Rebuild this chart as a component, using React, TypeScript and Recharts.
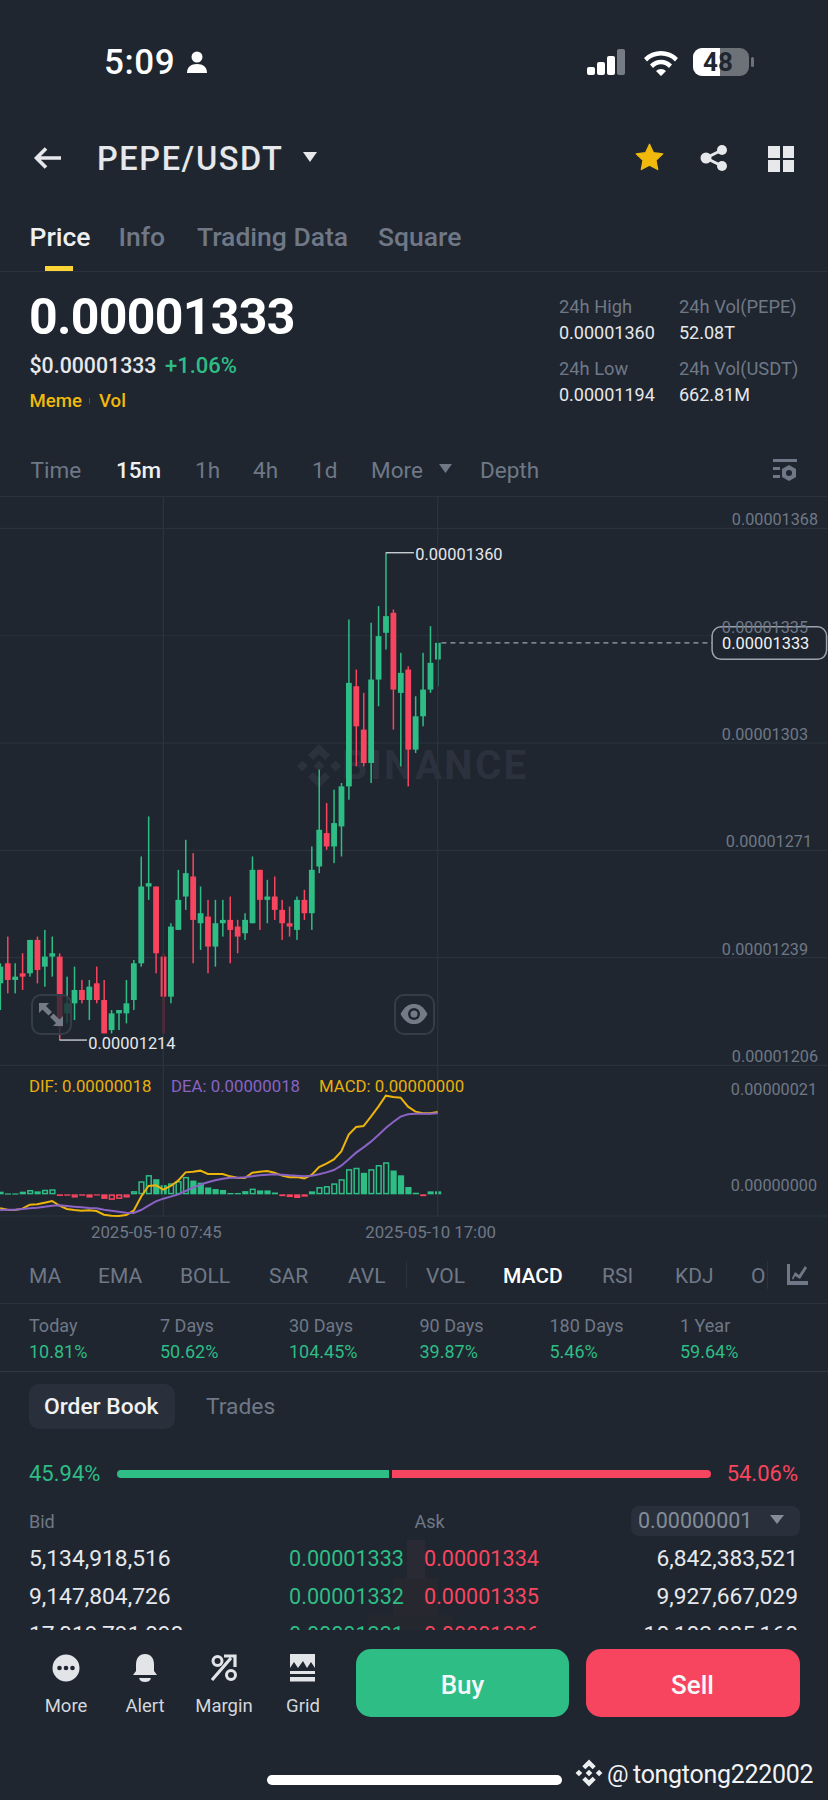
import React from "react";
import { ComposedChart, Bar, Line, XAxis, YAxis, CartesianGrid, ReferenceLine, ReferenceDot } from "recharts";

// Prices are in units of 0.00000001
const candleOpen = [1231,1237,1232,1234,1234,1244,1236,1239,1239,1222,1225,1229,1226,1231,1226,1217,1222,1222,1226,1237,1260,1260,1239,1227,1247,1257,1263,1249,1251,1242,1249,1250,1248,1246,1249,1265,1256,1257,1253,1249,1247,1256,1252,1266,1276,1272,1278,1290,1320,1307,1297,1322,1336,1342,1318,1325,1301,1311,1319,1328];
const candleHigh = [1237,1245,1237,1240,1244,1245,1247,1245,1240,1233,1236,1232,1232,1236,1232,1223,1223,1232,1238,1269,1281,1260,1240,1249,1265,1274,1270,1260,1256,1256,1256,1257,1250,1252,1269,1265,1262,1263,1256,1254,1257,1259,1272,1295,1285,1289,1291,1340,1325,1318,1339,1344,1360,1343,1330,1326,1317,1330,1338,1333];
const candleLow = [1223,1228,1228,1229,1233,1231,1230,1233,1214,1219,1220,1225,1220,1225,1216,1216,1217,1219,1223,1236,1256,1234,1216,1225,1247,1253,1237,1241,1234,1236,1245,1237,1240,1244,1249,1247,1249,1250,1244,1245,1244,1250,1247,1264,1271,1267,1269,1286,1296,1296,1291,1314,1331,1307,1296,1290,1300,1308,1318,1320];
const candleClose = [1236,1232,1233,1233,1244,1235,1239,1240,1218,1225,1229,1226,1230,1226,1216,1222,1223,1225,1237,1260,1261,1240,1227,1248,1256,1264,1250,1252,1242,1249,1250,1247,1245,1250,1265,1256,1257,1253,1249,1248,1256,1252,1265,1277,1272,1279,1290,1321,1308,1297,1322,1335,1341,1319,1324,1301,1311,1319,1327,1333];

// MACD panel, same units
const difValues = [-3.06,-3.35,-3.42,-3.13,-2.26,-2.18,-1.82,-1.46,-2.47,-3.2,-3.42,-3.57,-3.49,-3.64,-4.44,-4.66,-4.73,-4.51,-3.57,-0.51,1.82,1.97,1.02,1.82,2.98,4.8,4.95,5.17,4.44,4.44,4.44,3.93,3.64,3.57,4.73,4.95,5.09,4.73,4.08,3.71,3.78,3.49,4.22,5.97,6.7,7.64,9.39,13.03,14.7,14.92,16.96,19.14,21.54,21.25,21.11,19.14,18.05,17.69,17.69,17.98];
const deaValues = [-3.42,-3.35,-3.35,-3.2,-3.06,-2.91,-2.69,-2.47,-2.4,-2.55,-2.69,-2.84,-2.98,-3.06,-3.35,-3.57,-3.78,-4,-4.08,-3.42,-2.47,-1.53,-0.95,-0.51,0,0.73,1.46,2.11,2.62,3.06,3.42,3.64,3.64,3.71,3.93,4.15,4.29,4.37,4.29,4.15,4.08,3.93,4.08,4.37,4.8,5.31,6.26,7.64,9.1,10.26,11.5,12.95,14.48,15.79,16.96,17.47,17.61,17.61,17.61,17.69];
const histValues = [0.58,0.2,0.2,0.58,0.95,0.65,1,1.1,-0.35,-0.3,-0.7,-0.3,-0.7,-0.25,-1,-1.2,-1,-0.7,0.7,2.85,4.2,3.3,2,2.4,2.9,3.8,3,2.55,1.5,1.15,0.95,0.3,0.3,0.7,1.25,0.85,0.85,0.4,-0.4,-0.6,-0.8,-0.5,0.65,1.6,1.8,2.4,3.3,5.5,5.8,4.7,5.5,6.4,7,5.2,4.15,1.6,0.35,-0.4,0.65,0.65];
const hollowBars = [4,6,7,10,15,16,17,18,19,20,23,24,25,34,43,44,45,46,47,48,50,51,52];

const timeTickIndex = [22, 59];
const timeTickLabels = ["2025-05-10 07:45", "2025-05-10 17:00"];
const priceTicks = [1367.31, 1335.13, 1303, 1270.85, 1238.67, 1206.43];
const priceTickLabels = ["0.00001368", "0.00001335", "0.00001303", "0.00001271", "0.00001239", "0.00001206"];
const macdTicks = [21, 0];
const macdTickLabels = ["0.00000021", "0.00000000"];
const highPrice = 1360;
const lowPrice = 1214;
const lastPrice = 1333;
const highIndex = 52;
const lowIndex = 8;
const lastIndex = 59;

const pageTabs = ["Price", "Info", "Trading Data", "Square"];
const intervals = ["Time", "15m", "1h", "4h", "1d", "More", "Depth"];
const indicators = ["MA", "EMA", "BOLL", "SAR", "AVL", "VOL", "MACD", "RSI", "KDJ", "O"];
const periodNames = ["Today", "7 Days", "30 Days", "90 Days", "180 Days", "1 Year"];
const periodValues = ["10.81%", "50.62%", "104.45%", "39.87%", "5.46%", "59.64%"];
const bidQty = ["5,134,918,516", "9,147,804,726", "17,019,791,098"];
const bidPrice = ["0.00001333", "0.00001332", "0.00001331"];
const askPrice = ["0.00001334", "0.00001335", "0.00001336"];
const askQty = ["6,842,383,521", "9,927,667,029", "10,102,085,160"];
const actions = ["More", "Alert", "Margin", "Grid"];

const candleData = candleOpen.map((open, i) => ({
  i, open, close: candleClose[i], high: candleHigh[i], low: candleLow[i],
  range: [candleLow[i], candleHigh[i]],
}));
const macdData = difValues.map((dif, i) => ({
  i, dif, dea: deaValues[i], hist: histValues[i], hollow: hollowBars.includes(i),
}));

const BG = "#1f2630";
const GRID = "#2b323d";
const GREEN = "#2ebd85";
const RED = "#f8455f";
const GRAY = "#6f7886";
const SOFT = "#e6e8eb";
const YELLOW = "#f0b90b";
const PURPLE = "#8a63c4";
const W = 828;
const X_DOMAIN = [-0.0216, 111.63];

const T = ({ x, r, y, s, c = GRAY, w = 400, ls, children }: any) => (
  <div style={{ position: "absolute", left: r === undefined ? x : undefined, right: r !== undefined ? W - r : undefined, top: y, transform: "translateY(-50%)", fontSize: s, color: c, fontWeight: w, lineHeight: 1, whiteSpace: "nowrap", letterSpacing: ls }}>{children}</div>
);
const Box = ({ x, y, w, h, c, rad = 0, style }: any) => (
  <div style={{ position: "absolute", left: x, top: y, width: w, height: h, background: c, borderRadius: rad, ...style }} />
);
const Ico = ({ x, y, w, h, vb, children }: any) => (
  <svg style={{ position: "absolute", left: x, top: y }} width={w} height={h} viewBox={vb || `0 0 ${w} ${h}`}>{children}</svg>
);
const Logo = ({ x, y, size, c }: any) => (
  <Ico x={x} y={y} w={size} h={size} vb="0 0 100 100">
    <g fill={c}>
      <polygon points="50,2 74,26 63,37 50,24 37,37 26,26" />
      <polygon points="50,98 74,74 63,63 50,76 37,63 26,74" />
      <polygon points="14,38 26,50 14,62 2,50" />
      <polygon points="86,38 98,50 86,62 74,50" />
      <polygon points="50,38 62,50 50,62 38,50" />
    </g>
  </Ico>
);

const CandleShape = (props: any) => {
  const { x, y, width, height, payload } = props;
  const { open, close, high, low } = payload;
  const ppu = height / (high - low);
  const color = close >= open ? GREEN : RED;
  const top = y + (high - Math.max(open, close)) * ppu;
  const bodyH = Math.max(Math.abs(open - close) * ppu, 1.6);
  const cx = x + width / 2;
  return (
    <g>
      <rect x={cx - 0.75} y={y} width={1.5} height={height} fill={color} />
      <rect x={x} y={top} width={width} height={bodyH} fill={color} />
    </g>
  );
};
const HistShape = (props: any) => {
  const { x, y, width, height, payload } = props;
  const top = Math.min(y, y + height);
  const h = Math.max(Math.abs(height), 1.2);
  const color = payload.hist >= 0 ? GREEN : RED;
  if (payload.hollow) {
    return <rect x={x + 0.75} y={top + 0.75} width={width - 1.5} height={Math.max(h - 1.5, 0.5)} fill="none" stroke={color} strokeWidth={1.5} />;
  }
  return <rect x={x} y={top} width={width} height={h} fill={color} />;
};

const makeYTick = (ticks: number[], labels: string[], rights: number[]) => (p: any) => {
  const idx = ticks.indexOf(p.payload.value);
  return <text x={rights[idx]} y={p.y - 9} dy={5.8} textAnchor="end" fontSize={16.2} fill={GRAY} fontFamily="Roboto">{labels[idx]}</text>;
};
const TimeTick = (p: any) => {
  const idx = timeTickIndex.indexOf(p.payload.value);
  return <text x={p.x - 7} y={1231.7 - 1066 + 5.8} textAnchor="middle" fontSize={16.8} fill={GRAY} fontFamily="Roboto">{timeTickLabels[idx]}</text>;
};
const ExtremeText = (label: string, dy: number) => (p: any) => (
  <text x={p.cx + 1} y={p.cy + dy} fontSize={16.4} fill={SOFT} fontFamily="Roboto">{label}</text>
);
const LastBox = (p: any) => (
  <g>
    <rect x={p.cx} y={p.cy - 16} width={114.5} height={32.5} rx={9} fill={BG} stroke="#9ea4ae" strokeWidth={1.5} />
    <text x={p.cx + 10} y={p.cy + 6.5} fontSize={16.4} fill="#f2f3f5" fontFamily="Roboto">0.00001333</text>
  </g>
);

function PriceChart() {
  return (
    <div style={{ position: "absolute", left: 0, top: 496 }}>
      <ComposedChart width={W} height={570} data={candleData} margin={{ top: 0, right: -1, bottom: -1, left: 0 }}>
        <CartesianGrid stroke={GRID} strokeWidth={1.2} vertical={false} horizontalValues={priceTicks} />
        <XAxis type="number" dataKey="i" domain={X_DOMAIN} allowDataOverflow ticks={timeTickIndex} height={1} tick={false} axisLine={false} tickLine={false} interval={0} />
        <YAxis orientation="right" width={1} domain={[1206.23, 1376.99]} allowDataOverflow ticks={priceTicks} interval={0} axisLine={false} tickLine={false} tick={makeYTick(priceTicks, priceTickLabels, [818, 808, 808, 812, 808, 818])} />
        <ReferenceLine x={timeTickIndex[0]} stroke={GRID} strokeWidth={1.4} />
        <ReferenceLine x={timeTickIndex[1]} stroke={GRID} strokeWidth={1.4} />
        <Bar dataKey="range" barSize={5.8} shape={CandleShape} isAnimationActive={false} />
        <ReferenceLine segment={[{ x: highIndex, y: highPrice }, { x: 55.8, y: highPrice }]} stroke="#c8ccd2" strokeWidth={1.4} />
        <ReferenceLine segment={[{ x: lowIndex, y: lowPrice }, { x: 11.7, y: lowPrice }]} stroke="#c8ccd2" strokeWidth={1.4} />
        <ReferenceLine segment={[{ x: lastIndex + 0.5, y: lastPrice }, { x: 96, y: lastPrice }]} stroke="#9ea4ae" strokeWidth={1.4} strokeDasharray="5 4" />
        <ReferenceDot x={55.85} y={highPrice} shape={ExtremeText("0.00001360", 7)} />
        <ReferenceDot x={11.75} y={lowPrice} shape={ExtremeText("0.00001214", 9)} />
        <ReferenceDot x={96} y={lastPrice} shape={LastBox} />
      </ComposedChart>
    </div>
  );
}

function MacdChart() {
  return (
    <div style={{ position: "absolute", left: 0, top: 1066 }}>
      <ComposedChart width={W} height={181} data={macdData} margin={{ top: 0, right: -1, bottom: 0, left: 0 }}>
        <XAxis type="number" dataKey="i" domain={X_DOMAIN} allowDataOverflow ticks={timeTickIndex} height={30} axisLine={false} tickLine={false} interval={0} tick={TimeTick} />
        <YAxis orientation="right" width={1} domain={[-4.95, 28.02]} allowDataOverflow ticks={macdTicks} interval={0} axisLine={false} tickLine={false} tick={makeYTick(macdTicks, macdTickLabels, [817, 817])} />
        <ReferenceLine x={timeTickIndex[0]} stroke={GRID} strokeWidth={1.4} />
        <ReferenceLine x={timeTickIndex[1]} stroke={GRID} strokeWidth={1.4} />
        <ReferenceLine y={-4.73} stroke={GRID} strokeWidth={1.2} />
        <Bar dataKey="hist" barSize={6.2} shape={HistShape} isAnimationActive={false} />
        <Line dataKey="dif" type="linear" stroke="#edb40c" strokeWidth={2} dot={false} isAnimationActive={false} />
        <Line dataKey="dea" type="linear" stroke={PURPLE} strokeWidth={2} dot={false} isAnimationActive={false} />
      </ComposedChart>
    </div>
  );
}

const tabX = [29.5, 118.5, 197, 378];
const intervalX = [30.5, 116, 195, 253, 312, 371, 480];
const indicatorX = [29, 98, 180, 269, 348, 426, 503, 602, 675, 751];
const periodX = [29, 160, 289, 419.5, 549.5, 680];
const actionX = [66, 145, 224, 303];

export default function App() {
  return (
    <div style={{ position: "absolute", left: 0, top: 0, width: W, height: 1800, overflow: "hidden", background: BG, fontFamily: "Roboto, sans-serif" }}>
      {/* status bar */}
      <T x={104} y={62} s={35} c="#fff" w={500} ls={0.6}>5:09</T>
      <Ico x={185} y={50} w={24} h={24} vb="0 0 24 24"><circle cx="12" cy="7" r="5.5" fill="#fff" /><path d="M2 23c0-6 4-9 10-9s10 3 10 9z" fill="#fff" /></Ico>
      <Ico x={586} y={48} w={42} h={28}>
        <rect x="1" y="19" width="8" height="8" rx="2" fill="#fff" /><rect x="11" y="14" width="8" height="13" rx="2" fill="#fff" /><rect x="21" y="8" width="8" height="19" rx="2" fill="#fff" /><rect x="31" y="1" width="8" height="26" rx="2" fill="#777c84" />
      </Ico>
      <Ico x={642} y={48} w={38} h={28} vb="0 0 38 28">
        <path d="M2 10a24 24 0 0 1 34 0l-3 3.5a19.5 19.5 0 0 0-28 0z M8 16.5a15 15 0 0 1 22 0l-3 3.5a10.5 10.5 0 0 0-16 0z M14 23a7 7 0 0 1 10 0l-5 5z" fill="#fff" />
      </Ico>
      <Box x={693} y={48} w={56} h={28} c="#6d7178" rad={9} />
      <div style={{ position: "absolute", left: 693, top: 48, width: 27, height: 28, background: "#fff", borderRadius: "9px 0 0 9px" }} />
      <Box x={751} y={57} w={3} h={10} c="#6d7178" rad={2} />
      <T x={703} y={62} s={26} c={BG} w={700}>48</T>

      {/* header */}
      <Ico x={33} y={146} w={30} h={24} vb="0 0 30 24"><path d="M28 12H4M13 2.5L3.5 12 13 21.5" stroke={SOFT} strokeWidth="3.6" fill="none" /></Ico>
      <T x={97} y={159} s={32.5} c={SOFT} w={500} ls={1.6}>PEPE/USDT</T>
      <Ico x={302} y={151} w={16} h={12}><path d="M1 1h14L8 11z" fill={SOFT} /></Ico>
      <Ico x={635} y={143} w={29} h={29} vb="0 0 24 24"><path d="M12 1l3.3 7 7.7 1-5.6 5.3 1.4 7.7L12 18.3 5.2 22l1.4-7.7L1 9l7.7-1z" fill={YELLOW} stroke={YELLOW} strokeLinejoin="round" /></Ico>
      <Ico x={700} y={144} w={28} h={28} vb="0 0 28 28"><path d="M22 6L6 14l16 8" stroke={SOFT} strokeWidth="3" fill="none" /><circle cx="22" cy="6" r="5" fill={SOFT} /><circle cx="6" cy="14" r="5.5" fill={SOFT} /><circle cx="22" cy="22" r="5" fill={SOFT} /></Ico>
      <Box x={768} y={146} w={11.5} h={11.5} c={SOFT} /><Box x={782.5} y={146} w={11.5} h={11.5} c={SOFT} />
      <Box x={768} y={160} w={11.5} h={11.5} c={SOFT} /><Box x={782.5} y={160} w={11.5} h={11.5} c={SOFT} />

      {/* tabs */}
      {pageTabs.map((t, i) => <T key={t} x={tabX[i]} y={237} s={26.5} c={i === 0 ? "#eef0f2" : GRAY} w={500}>{t}</T>)}
      <Box x={44.7} y={265.5} w={28.5} h={5} c="#fcd535" />
      <Box x={0} y={270.5} w={W} h={1.2} c={GRID} />

      {/* price block */}
      <T x={29} y={317} s={50} c="#fff" w={700} ls={-0.7}>0.00001333</T>
      <T x={29.5} y={365.7} s={21.3} c={SOFT} w={500}>$0.00001333</T>
      <T x={165} y={365.7} s={22} c={GREEN} w={500}>+1.06%</T>
      <T x={29.5} y={401} s={18.6} c={YELLOW} w={500}>Meme</T>
      <Box x={89} y={398} w={1.3} h={6} c="#474d57" />
      <T x={99} y={401} s={18.6} c={YELLOW} w={500}>Vol</T>
      <T x={559} y={306.7} s={18.3}>24h High</T>
      <T x={679} y={306.7} s={18.3}>24h Vol(PEPE)</T>
      <T x={559} y={333} s={18} c={SOFT}>0.00001360</T>
      <T x={679} y={333} s={18} c={SOFT}>52.08T</T>
      <T x={559} y={368.7} s={18.3}>24h Low</T>
      <T x={679} y={368.7} s={18.3}>24h Vol(USDT)</T>
      <T x={559} y={395} s={18} c={SOFT}>0.00001194</T>
      <T x={679} y={395} s={18} c={SOFT}>662.81M</T>

      {/* intervals */}
      {intervals.map((t, i) => <T key={t} x={intervalX[i]} y={470} s={22.5} c={i === 1 ? "#eef0f2" : GRAY} w={i === 1 ? 500 : 400}>{t}</T>)}
      <Ico x={439} y={464} w={13} h={10}><path d="M0 0h13L6.5 9z" fill={GRAY} /></Ico>
      <Ico x={773} y={459} w={24} h={23} vb="0 0 24 23">
        <rect x="0" y="0" width="24" height="3" fill={GRAY} /><rect x="0" y="8" width="7" height="3" fill={GRAY} /><rect x="0" y="16" width="7" height="3" fill={GRAY} />
        <path d="M16 6l7 4v8l-7 4-7-4v-8z" fill={GRAY} /><circle cx="16" cy="14" r="3" fill={BG} />
      </Ico>
      <Box x={0} y={495.5} w={W} h={1.2} c={GRID} />

      {/* watermark */}
      <Logo x={296} y={743} size={46} c="#2b323e" />
      <T x={342} y={766} s={40} c="#2b323e" w={700} ls={2.4}>BINANCE</T>

      <PriceChart />
      <MacdChart />

      {/* chart overlays */}
      <Box x={31} y={994} w={37} h={37} rad={10} c="rgba(31,38,48,0.78)" style={{ border: "2px solid #363c48" }} />
      <Ico x={38} y={1002} w={26} h={25} vb="0 0 26 25">
        <path d="M1 1h10L8 4l6 6-3.500 3.500-6-6-3.500 3.500z M25 24H15l3-3-6-6 3.500-3.500 6 6 3.500-3.500z" fill="#747a86" />
      </Ico>
      <Box x={394} y={994} w={37} h={37} rad={10} c="rgba(31,38,48,0.6)" style={{ border: "2px solid #363c48" }} />
      <Ico x={400} y={1003} w={28} h={22} vb="0 0 28 22">
        <path d="M0.500 11C5 3 9 1 14 1s9 2 13.500 10C23 19 19 21 14 21S5 19 0.500 11z" fill="#747a86" /><circle cx="14" cy="11" r="6" fill={BG} /><circle cx="14" cy="11" r="3.500" fill="#747a86" />
      </Ico>
      <T x={29} y={1086} s={16.8} c="#e9b00c">DIF: 0.00000018</T>
      <T x={171} y={1086} s={16.8} c={PURPLE}>DEA: 0.00000018</T>
      <T x={319} y={1086} s={16.8} c="#e9b00c">MACD: 0.00000000</T>

      {/* indicators */}
      {indicators.map((t, i) => <T key={t} x={indicatorX[i]} y={1275.7} s={21} c={i === 6 ? "#fff" : GRAY} w={i === 6 ? 500 : 400}>{t}</T>)}
      <Box x={406} y={1261} w={1.2} h={28} c={GRID} />
      <Box x={766.5} y={1261} w={12} h={28} c={BG} />
      <Box x={766.5} y={1261} w={1.2} h={28} c={GRID} />
      <Ico x={787} y={1264} w={21} h={22} vb="0 0 21 22">
        <path d="M0 0h3v17h18v4H0z M5 14l3-6 4 3 6-9 2 2-7 11-5-3-2 4z" fill={GRAY} />
      </Ico>
      <Box x={0} y={1302.8} w={W} h={1.2} c={GRID} />
      {periodNames.map((t, i) => <T key={t} x={periodX[i]} y={1325.7} s={18}>{t}</T>)}
      {periodValues.map((t, i) => <T key={t} x={periodX[i]} y={1352} s={18} c={GREEN}>{t}</T>)}
      <Box x={0} y={1370.5} w={W} h={1.4} c="#313844" />

      {/* order book */}
      <Box x={29} y={1384} w={146} h={45} c="#2a303b" rad={10} />
      <T x={44} y={1407} s={22.8} c="#f0f1f3" w={500}>Order Book</T>
      <T x={206} y={1407} s={22.8}>Trades</T>
      <T x={29} y={1474} s={22} c={GREEN}>45.94%</T>
      <T r={798} y={1474} s={22} c={RED}>54.06%</T>
      <div style={{ position: "absolute", left: 117, top: 1470, width: 271.5, height: 8, background: GREEN, borderRadius: "4px 0 0 4px" }} />
      <div style={{ position: "absolute", left: 391.5, top: 1470, width: 319.5, height: 8, background: RED, borderRadius: "0 4px 4px 0" }} />
      <T x={29} y={1521.7} s={18}>Bid</T>
      <T x={414.5} y={1521.7} s={18}>Ask</T>
      <Box x={630.5} y={1506} w={169} h={30} c="#2a303b" rad={8} />
      <T x={638} y={1521} s={21.5} c="#848c98">0.00000001</T>
      <Ico x={770} y={1515} w={14} h={10}><path d="M0 0h14L7 9z" fill="#848c98" /></Ico>
      <Box x={407} y={1540} w={18} h={38} c="#2a2a34" />
      <Box x={393} y={1578} w={45} h={37} c="#27282f" />
      <Box x={368} y={1615} w={85} h={16} c="#25272f" />
      {bidQty.map((t, i) => (
        <React.Fragment key={t}>
          <T x={29} y={1559.3 + i * 37.7} s={22.8} c={SOFT}>{t}</T>
          <T r={404} y={1559.3 + i * 37.7} s={21.6} c={GREEN}>{bidPrice[i]}</T>
          <T x={424} y={1559.3 + i * 37.7} s={21.6} c={RED}>{askPrice[i]}</T>
          <T r={798} y={1559.3 + i * 37.7} s={22.8} c={SOFT}>{askQty[i]}</T>
        </React.Fragment>
      ))}

      {/* bottom bar */}
      <Box x={0} y={1630} w={W} h={170} c={BG} />
      <Ico x={52} y={1654} w={28} h={28} vb="0 0 28 28"><circle cx="14" cy="14" r="13.500" fill="#e2e4e7" /><circle cx="7.500" cy="14" r="2.300" fill={BG} /><circle cx="14" cy="14" r="2.300" fill={BG} /><circle cx="20.500" cy="14" r="2.300" fill={BG} /></Ico>
      <Ico x={131} y={1653} w={28} h={30} vb="0 0 28 30"><path d="M14 1c6 0 9 4 9 11v6l3 4H2l3-4v-6C5 5 8 1 14 1z" fill="#e2e4e7" /><path d="M8 25h12c-1 3-3 4-6 4s-5-1-6-4z" fill="#e2e4e7" /></Ico>
      <Ico x={211} y={1654} w={27} h={28} vb="0 0 27 28">
        <circle cx="6.500" cy="7" r="4.500" fill="none" stroke="#e2e4e7" strokeWidth="3" /><circle cx="20" cy="21" r="4.500" fill="none" stroke="#e2e4e7" strokeWidth="3" />
        <path d="M1 26L20 4M13 2h11v11" fill="none" stroke="#e2e4e7" strokeWidth="3.200" />
      </Ico>
      <Ico x={289} y={1654} w={27} h={28} vb="0 0 27 28">
        <path d="M1 0h25v14l-4-6-4 6-4-7-5 7-4-6-4 6z" fill="#e2e4e7" /><rect x="1" y="17" width="25" height="3" fill="#e2e4e7" /><rect x="1" y="23" width="25" height="4.500" fill="#e2e4e7" />
      </Ico>
      {actions.map((t, i) => (
        <div key={t} style={{ position: "absolute", left: actionX[i] - 40, width: 80, top: 1697, textAlign: "center", fontSize: 18.5, lineHeight: 1, color: "#d4d7db" }}>{t}</div>
      ))}
      <Box x={356} y={1649} w={213} h={68} c={GREEN} rad={15} />
      <div style={{ position: "absolute", left: 356, width: 213, top: 1672, textAlign: "center", fontSize: 26, lineHeight: 1, color: "#f6f7f8", fontWeight: 500 }}>Buy</div>
      <Box x={585.5} y={1649} w={214} h={68} c={RED} rad={15} />
      <div style={{ position: "absolute", left: 585.5, width: 214, top: 1672, textAlign: "center", fontSize: 26, lineHeight: 1, color: "#f6f7f8", fontWeight: 500 }}>Sell</div>

      <Box x={267} y={1775} w={295} h={10} c="#fff" rad={5} />
      <Logo x={575} y={1759} size={28} c="#eceef0" />
      <T x={607} y={1774} s={24} c="#f2f3f5">@</T>
      <T x={633} y={1774} s={25} c="#f2f3f5" ls={-0.3}>tongtong222002</T>
    </div>
  );
}
